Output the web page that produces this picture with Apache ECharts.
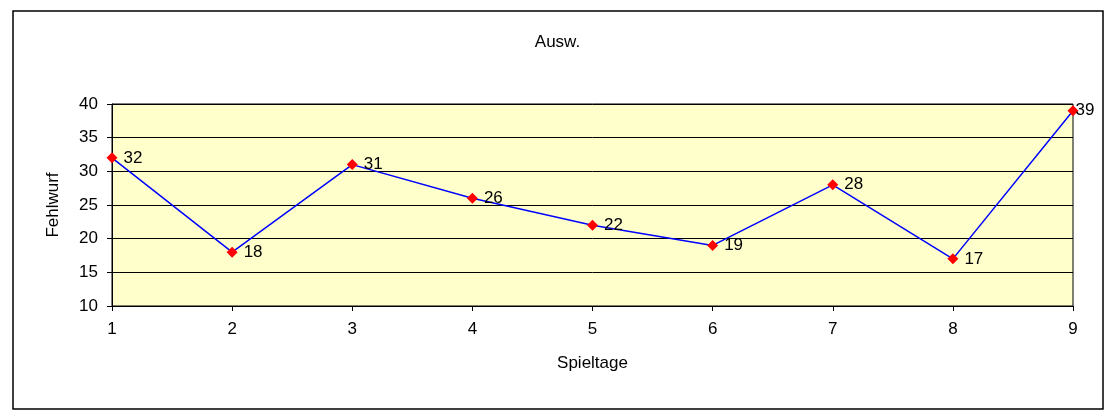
<!DOCTYPE html>
<html>
<head>
<meta charset="utf-8">
<script src="https://cdn.jsdelivr.net/npm/echarts@6/dist/echarts.min.js"></script>
<style>
  html, body { margin: 0; padding: 0; background: #fff; }
  #chart { width: 1115px; height: 411px; }
</style>
</head>
<body>
<div id="chart"></div>
<script>
// Spieltage / Fehlwurf
const spieltage = ['1', '2', '3', '4', '5', '6', '7', '8', '9'];
const fehlwurf = [32, 18, 31, 26, 22, 19, 28, 17, 39];

const font = 'Liberation Sans, Arial, sans-serif';

const chart = echarts.init(document.getElementById('chart'));

// letzter Punkt: Beschriftung direkt am Marker
const seriesData = fehlwurf.map((v, i) => {
  if (i === fehlwurf.length - 1) return { value: v, label: { distance: -3 } };
  return v;
});

chart.setOption({
  backgroundColor: '#fff',
  animation: false,
  title: {
    text: 'Ausw.',
    left: 'center',
    top: 29,
    textStyle: { fontFamily: font, fontSize: 17, fontWeight: 'normal', color: '#000' }
  },
  graphic: [{
    type: 'rect',
    shape: { x: 13, y: 11, width: 1090, height: 398 },
    style: { fill: 'none', stroke: '#000', lineWidth: 1.5 },
    silent: true
  }],
  grid: {
    left: 112, top: 104, right: 42, bottom: 105,
    show: true,
    backgroundColor: '#FFFFCC',
    borderColor: '#000',
    borderWidth: 1
  },
  xAxis: {
    type: 'category',
    data: spieltage,
    boundaryGap: false,
    name: 'Spieltage',
    nameLocation: 'middle',
    nameGap: 49,
    nameTextStyle: { fontFamily: font, fontSize: 17, color: '#000' },
    axisLine: { lineStyle: { color: '#000', width: 1 } },
    axisTick: { show: true, length: 5, lineStyle: { color: '#000' } },
    axisLabel: { fontFamily: font, fontSize: 17, color: '#000', margin: 15 },
    splitLine: { show: false }
  },
  yAxis: {
    type: 'value',
    min: 10,
    max: 40,
    interval: 5,
    name: 'Fehlwurf',
    nameLocation: 'middle',
    nameGap: 50,
    nameTextStyle: { fontFamily: font, fontSize: 17, color: '#000' },
    axisLine: { show: true, lineStyle: { color: '#000', width: 1 } },
    axisTick: { show: true, length: 5, lineStyle: { color: '#000' } },
    axisLabel: { fontFamily: font, fontSize: 17, color: '#000', margin: 14 },
    splitLine: { show: true, lineStyle: { color: '#000', width: 1 } }
  },
  series: [{
    type: 'line',
    data: seriesData,
    symbol: 'diamond',
    symbolSize: 11,
    itemStyle: { color: '#FF0000' },
    lineStyle: { color: '#0000FF', width: 1.5 },
    label: {
      show: true,
      position: 'right',
      distance: 6,
      fontFamily: font,
      fontSize: 17,
      color: '#000'
    }
  }]
});
</script>
</body>
</html>
